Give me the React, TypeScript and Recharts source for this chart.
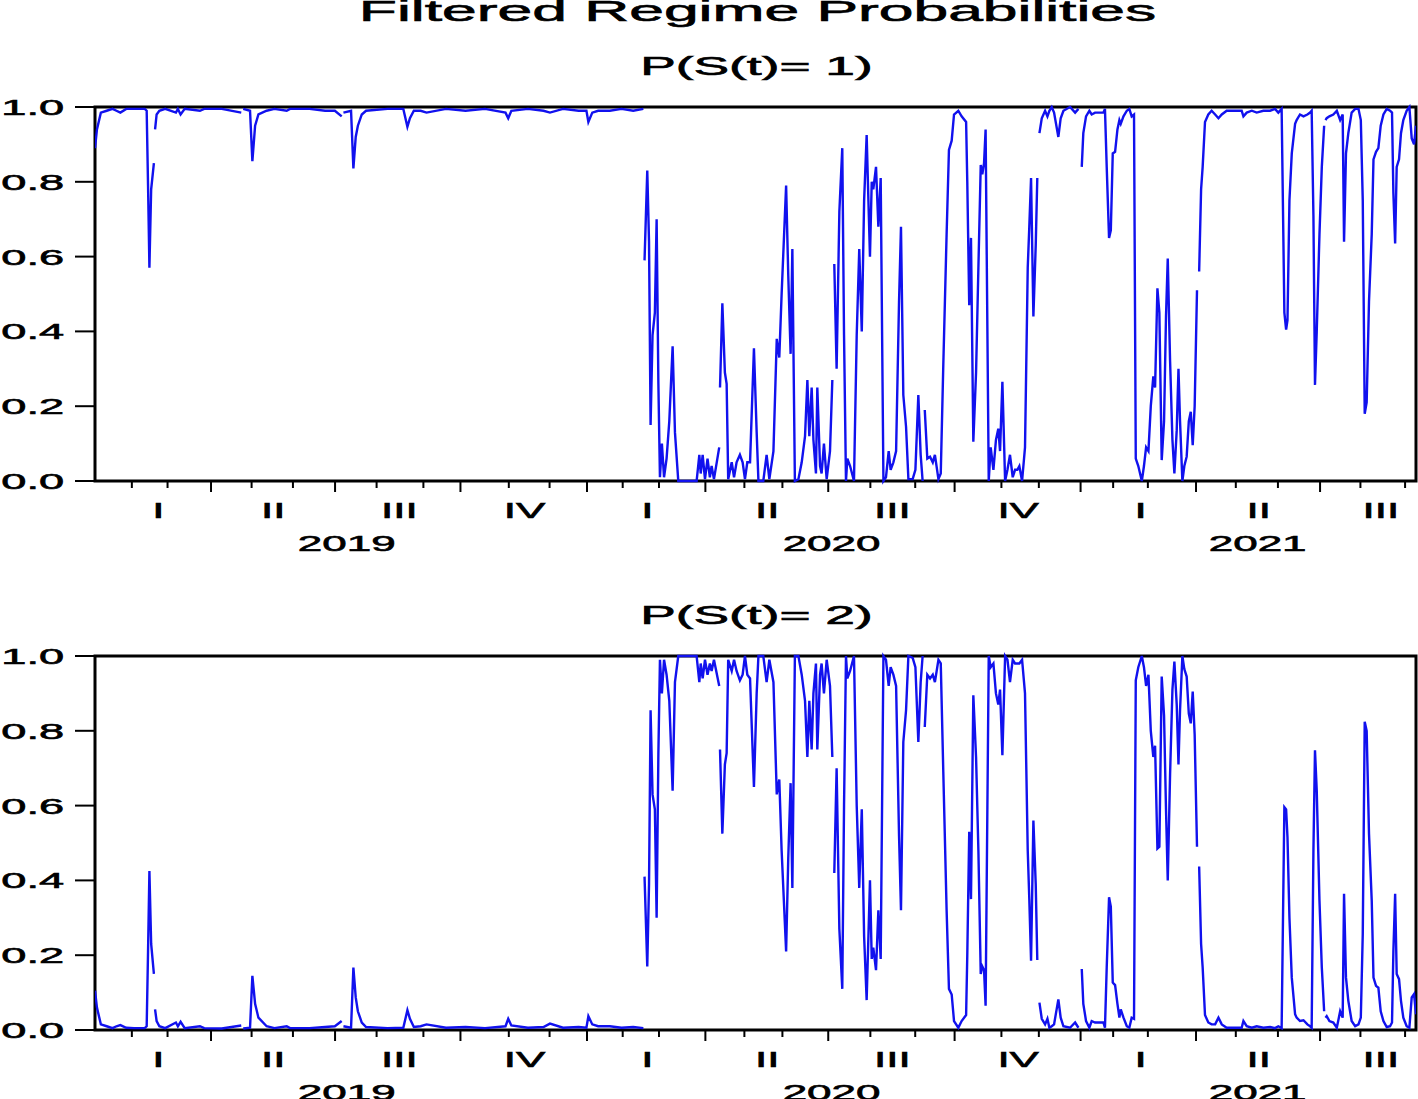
import React from 'react'
import { LineChart, Line, XAxis, YAxis, ReferenceArea } from 'recharts'

// observation position (weekday index from the first day of the sample); gaps are market holidays
const obs = [
  0, 1, 3, 6, 9, 11, 13, 16, 20, 25.5, 26.5, 27.2, 27.9, 28.8, 30.2, 30.5, 30.8, 31.6, 33, 36,
  41.5, 42.5, 43.9, 46, 53.8, 56, 65, 75, 75.5, 76, 79.5, 80.7, 82.1, 83.8, 88, 92, 98.3, 100, 110, 118,
  123, 126.5, 126.9, 127.4, 131.3, 132.5, 133.7, 134.8, 136.8, 139, 150, 158.1, 160.2, 161.5, 163.5, 167, 170, 180, 190, 200,
  210.5, 211.9, 213.5, 222, 230, 233.3, 240, 248, 252, 253, 255, 258, 264, 270, 276, 281.2, 281.5,
  281.8, 283.2, 284.1, 284.9, 285.9, 287.1, 288.0, 288.9, 289.7, 290.7, 291.8, 293.1, 294.5, 296.2, 297.4, 299.1, 306, 308.5,
  309.9, 310.6, 311.6, 312.8, 314.1, 315.3, 316.2, 317.4, 320.1, 320.3, 320.5, 321.7, 323.0, 323.9, 324.7, 326.5, 327.7, 329.0,
  330.7, 332.1, 333.3, 334.5, 335.9, 337.9, 339.3, 340.2, 342.7, 344.4, 345.8, 347.9, 349.6, 350.9, 352.1, 354.4, 355.5, 356.7,
  357.6, 358.9, 360.7, 362.4, 364.1, 365.3, 366.3, 367.5, 368.4, 369.7, 370.4, 371.8, 372.6, 373.8, 375.2, 376.9, 378.1, 378.6,
  379.1, 380.3, 381.7, 383.2, 384.1, 385.1, 385.8, 387.2, 389.2, 390.6, 391.9, 393.2, 394.4, 395.7, 396.6, 397.4, 398.3, 399.1,
  400.5, 401.7, 402.9, 404.3, 405.6, 407.0, 408.0, 409.4, 410.8, 412.3, 413.3, 414.5, 415.9, 417.1, 419.3, 420.7, 422.2, 423.4,
  424.4, 424.9, 425.5, 426.8, 428.2, 429.6, 430.7, 432.5, 433.7, 435.0, 436.7, 437.9, 439.3, 440.5, 442.7, 444.4, 446.7, 447.3,
  448.3, 449.2, 450.4, 451.8, 453.0, 454.2, 455.0, 455.9, 456.7, 458.3, 459.3, 460.7, 462.0, 463.2, 464.1, 465.3, 466.7, 467.9,
  469.2, 470.6, 471.8, 473.0, 474.0, 475.4, 476.9, 478.3, 479.1, 480.0, 481.2, 482.4, 483.2, 483.7, 484.3, 485.5, 487.2, 488.4,
  489.4, 490.6, 491.8, 494.0, 495.2, 496.6, 500.0, 502.6, 504.3, 505.2, 506.0, 506.8, 508.2, 509.9, 511.1, 512.8, 517.1, 517.9,
  518.8, 520.0, 520.9, 521.9, 523.1, 524.3, 525.3, 526.0, 527.4, 529.1, 530.4, 531.6, 532.8, 533.7, 535.0, 536.8, 537.9, 539.0,
  540.2, 541.4, 542.7, 543.6, 544.8, 545.8, 547.0, 548.2, 549.2, 550.1, 551.3, 552.5, 553.5, 554.7, 555.6, 556.4, 557.6, 558.6,
  559.8, 560.9, 561.9, 562.9, 563.9, 565.1, 565.6, 566.2, 567.2, 568.0, 569.2, 570.9, 572.6, 574.4, 576.1, 577.8, 580.3, 585.5,
  588.0, 588.9, 590.6, 593.2, 595.7, 599.1, 602.6, 605.1, 606.8, 608.5, 609.9, 610.8, 611.5, 612.5, 613.7, 615.4, 616.2, 617.9,
  619.7, 621.7, 623.1, 623.9, 624.8, 625.6, 626.5, 627.9, 629.1, 630.3, 630.6, 631.0, 631.6, 633.0, 635.0, 636.8, 638.5, 639.8,
  640.5, 641.5, 642.7, 644.4, 646.2, 647.9, 649.1, 650.1, 651.1, 652.1, 653.3, 654.7, 655.6, 656.9, 658.1, 659.3, 660.7, 662.4,
  664.1, 665.1, 665.8, 666.7, 667.5, 668.7, 669.7, 670.9, 672.6, 674.0, 675.2, 676.4, 677.4,
]

// P(S(t)= 1)
const probRegime1 = [
  0.89, 0.94, 0.985, 0.99, 0.995, 0.99, 0.985, 0.995, 0.995, 0.995, 0.99, 0.79, 0.57, 0.78, 0.85, null, 0.94, 0.98, 0.99, 0.995,
  0.985, 0.995, 0.98, 0.995, 0.99, 0.995, 0.995, 0.985, null, 0.995, 0.99, 0.855, 0.95, 0.98, 0.99, 0.995, 0.99, 0.995, 0.995, 0.99,
  0.99, 0.975, null, 0.985, 0.99, 0.836, 0.92, 0.95, 0.98, 0.99, 0.995, 0.995, 0.947, 0.97, 0.99, 0.99, 0.985, 0.995, 0.99, 0.995,
  0.985, 0.97, 0.99, 0.995, 0.99, 0.985, 0.995, 0.99, 0.99, 0.96, 0.985, 0.99, 0.99, 0.995, 0.99, 0.995, null,
  0.59, 0.83, 0.64, 0.15, 0.39, 0.45, 0.70, 0.26, 0.01, 0.10, 0.01, 0.06, 0.16, 0.36, 0.13, 0, 0, 0,
  0.07, 0.02, 0.07, 0.005, 0.06, 0.01, 0.04, 0.005, 0.09, null, 0.25, 0.475, 0.29, 0.26, 0.005, 0.05, 0.01, 0.05,
  0.07, 0.05, 0.005, 0.05, 0.05, 0.355, 0.13, 0, 0, 0.07, 0.005, 0.08, 0.38, 0.33, 0.50, 0.79, 0.55, 0.34,
  0.62, 0, 0.005, 0.05, 0.12, 0.27, 0.12, 0.25, 0.11, 0.02, 0.25, 0.04, 0.02, 0.10, 0.005, 0.08, 0.27, null,
  0.58, 0.30, 0.72, 0.89, 0.39, 0, 0.06, 0.04, 0, 0.39, 0.62, 0.40, 0.75, 0.925, 0.75, 0.60, 0.80, 0.78,
  0.84, 0.68, 0.81, 0, 0.01, 0.08, 0.03, 0.05, 0.08, 0.48, 0.68, 0.23, 0.145, 0.005, 0.005, 0.03, 0.23, 0.07,
  0, null, 0.19, 0.06, 0.065, 0.05, 0.07, 0.005, 0.02, 0.31, 0.66, 0.885, 0.91, 0.98, 0.99, 0.975, 0.96, 0.80,
  0.47, 0.65, 0.105, 0.29, 0.57, 0.845, 0.82, 0.85, 0.94, 0, 0.09, 0.03, 0.11, 0.14, 0.08, 0.265, 0, 0.03,
  0.07, 0.01, 0.03, 0.03, 0.04, 0, 0.09, 0.57, 0.68, 0.81, 0.44, 0.63, 0.81, null, 0.93, 0.97, 0.99, 0.975,
  0.99, 1, 0.985, 0.92, 0.97, 0.99, 1, 0.985, 0.995, null, 0.84, 0.93, 0.975, 0.99, 0.98, 0.985, 0.985, 0.995,
  0.84, 0.65, 0.67, 0.876, 0.88, 0.94, 0.965, 0.955, 0.975, 0.99, 0.995, 0.975, 0.98, 0.06, 0.04, 0, 0.04, 0.09,
  0.08, 0.20, 0.28, 0.25, 0.515, 0.45, 0.056, 0.16, 0.44, 0.595, 0.32, 0.11, 0.02, 0.136, 0.30, 0.16, 0, 0.04,
  0.065, 0.16, 0.185, 0.096, 0.20, 0.51, null, 0.56, 0.78, 0.84, 0.96, 0.98, 0.99, 0.98, 0.97, 0.98, 0.99, 0.99,
  0.99, 0.975, 0.985, 0.99, 0.985, 0.99, 0.99, 0.995, 0.985, 0.995, 0.45, 0.405, 0.43, 0.75, 0.876, 0.955, 0.965, 0.98,
  0.975, 0.98, 0.985, 0.99, 0.71, 0.257, 0.40, 0.66, 0.84, 0.95, null, 0.965, 0.97, 0.975, 0.98, 0.99, 0.965, 0.98,
  0.64, 0.876, 0.93, 0.985, 0.995, 0.995, 0.965, 0.75, 0.18, 0.21, 0.48, 0.66, 0.86, 0.88, 0.89, 0.95, 0.98, 0.995,
  0.99, 0.985, 0.77, 0.635, 0.84, 0.86, 0.93, 0.965, 0.99, 1, 0.916, 0.90, 0.95,
]

// P(S(t)= 2)
const probRegime2 = [
  0.105, 0.06, 0.015, 0.01, 0.005, 0.01, 0.013, 0.006, 0.005, 0.005, 0.01, 0.21, 0.425, 0.23, 0.15, null, 0.055, 0.024, 0.01, 0.005,
  0.02, 0.01, 0.022, 0.005, 0.01, 0.005, 0.004, 0.012, null, 0.004, 0.006, 0.145, 0.07, 0.033, 0.01, 0.005, 0.01, 0.005, 0.005, 0.008,
  0.01, 0.024, null, 0.01, 0.006, 0.167, 0.087, 0.05, 0.02, 0.008, 0.005, 0.006, 0.053, 0.03, 0.008, 0.01, 0.015, 0.006, 0.008, 0.005,
  0.01, 0.03, 0.012, 0.006, 0.008, 0.017, 0.006, 0.008, 0.006, 0.037, 0.015, 0.01, 0.01, 0.006, 0.008, 0.005, null,
  0.41, 0.17, 0.39, 0.855, 0.63, 0.59, 0.30, 0.74, 0.99, 0.90, 0.99, 0.95, 0.88, 0.64, 0.93, 1, 1, 1,
  0.93, 0.98, 0.94, 0.99, 0.95, 0.98, 0.96, 0.99, 0.92, null, 0.75, 0.525, 0.71, 0.74, 0.99, 0.96, 0.99, 0.96,
  0.935, 0.95, 1, 0.95, 0.94, 0.65, 0.90, 1, 1, 0.93, 0.99, 0.93, 0.63, 0.67, 0.48, 0.21, 0.46, 0.66,
  0.38, 1, 1, 0.95, 0.88, 0.73, 0.88, 0.75, 0.90, 0.98, 0.75, 0.95, 0.98, 0.90, 0.99, 0.92, 0.73, null,
  0.42, 0.70, 0.27, 0.11, 0.60, 1, 0.94, 0.96, 1, 0.60, 0.38, 0.59, 0.25, 0.08, 0.25, 0.40, 0.19, 0.22,
  0.16, 0.32, 0.19, 1, 0.99, 0.92, 0.97, 0.95, 0.92, 0.52, 0.32, 0.77, 0.855, 1, 0.995, 0.97, 0.77, 0.93,
  1, null, 0.81, 0.95, 0.94, 0.95, 0.93, 0.99, 0.98, 0.69, 0.32, 0.11, 0.095, 0.024, 0.006, 0.024, 0.04, 0.20,
  0.53, 0.35, 0.895, 0.73, 0.48, 0.15, 0.17, 0.16, 0.065, 1, 0.97, 0.98, 0.90, 0.87, 0.91, 0.735, 1, 0.99,
  0.93, 0.99, 0.98, 0.98, 0.98, 0.99, 0.90, 0.48, 0.35, 0.185, 0.56, 0.39, 0.187, null, 0.073, 0.03, 0.015, 0.03,
  0.006, 0.01, 0.015, 0.082, 0.033, 0.01, 0.006, 0.02, 0.006, null, 0.163, 0.07, 0.024, 0.006, 0.024, 0.02, 0.02, 0.006,
  0.167, 0.355, 0.33, 0.127, 0.12, 0.07, 0.033, 0.055, 0.033, 0.01, 0.006, 0.033, 0.03, 0.935, 0.97, 1, 0.97, 0.92,
  0.95, 0.80, 0.73, 0.76, 0.485, 0.49, 0.945, 0.84, 0.59, 0.40, 0.685, 0.91, 0.985, 0.87, 0.71, 0.855, 1, 0.965,
  0.945, 0.846, 0.82, 0.905, 0.79, 0.49, null, 0.437, 0.23, 0.167, 0.04, 0.02, 0.015, 0.015, 0.033, 0.015, 0.006, 0.006,
  0.006, 0.024, 0.01, 0.006, 0.01, 0.006, 0.008, 0.005, 0.01, 0.005, 0.596, 0.59, 0.515, 0.30, 0.14, 0.042, 0.033, 0.024,
  0.026, 0.015, 0.01, 0.006, 0.48, 0.748, 0.64, 0.346, 0.167, 0.05, null, 0.033, 0.037, 0.024, 0.02, 0.006, 0.05, 0.033,
  0.364, 0.14, 0.078, 0.024, 0.01, 0.015, 0.033, 0.257, 0.824, 0.80, 0.525, 0.346, 0.14, 0.118, 0.113, 0.05, 0.024, 0.008,
  0.01, 0.02, 0.21, 0.364, 0.15, 0.136, 0.078, 0.033, 0.01, 0.006, 0.087, 0.096, 0.042,
]

// axis: first weekday of each month (Feb 2019 .. Sep 2021)
const monthStarts = [
  18.9, 37.2, 59.5, 80.3, 101.5, 123.1, 144.4, 168.4, 187.4, 212.2, 233.1,
  252.3, 270.6, 289.2, 313.0, 333.0, 352.5, 376.0, 397.6, 420.6, 440.8, 464.8, 484.0,
  505.4, 522.1, 539.9, 564.6, 585.0, 606.6, 628.2, 648.9, 671.8,
]
const quarterStarts = [59.5, 123.1, 187.4, 252.3, 313.0, 376.0, 440.8, 505.4, 564.6, 628.2]
const quarterLabels = ['I', 'II', 'III', 'IV', 'I', 'II', 'III', 'IV', 'I', 'II', 'III']
const quarterLabelPos = [32.5, 91.4, 156.1, 220.3, 283.3, 344.7, 408.9, 473.4, 536.2, 596.7, 659.4]
const yearLabels = ['2019', '2020', '2021']
const yearLabelPos = [129.1, 377.7, 596.2]
const yTicks = [0, 0.2, 0.4, 0.6, 0.8, 1.0]
const X_MAX = 677.4

const FONT = "'Liberation Sans', Arial, Helvetica, sans-serif"
const LINE_COLOR = '#1111ee'
const AXIS_Y = 481

// EViews-style wide text: glyphs stretched horizontally, slightly heavier strokes
function StretchText({ x, y, size, sx = 2, anchor = 'middle', children }: any) {
  return (
    <text
      transform={`translate(${x},${y}) scale(${sx},1)`}
      textAnchor={anchor}
      fontSize={size}
      fontFamily={FONT}
      fill="#000"
      stroke="#000"
      strokeWidth={0.6}
    >
      {children}
    </text>
  )
}

function XTick(props: any) {
  const { x, payload } = props
  const v = payload.value
  const qi = quarterLabelPos.indexOf(v)
  if (qi >= 0) {
    return <StretchText x={x} y={518} size={22}>{quarterLabels[qi]}</StretchText>
  }
  const yi = yearLabelPos.indexOf(v)
  if (yi >= 0) {
    return <StretchText x={x} y={551} size={22}>{yearLabels[yi]}</StretchText>
  }
  const long = quarterStarts.includes(v)
  return <line x1={x} x2={x} y1={AXIS_Y} y2={AXIS_Y + (long ? 11 : 7)} stroke="#000" strokeWidth={2} />
}

function YTick(props: any) {
  const { y, payload } = props
  return (
    <StretchText x={64} y={y + 8} size={22} sx={2.05} anchor="end">
      {Number(payload.value).toFixed(1)}
    </StretchText>
  )
}

const xTicks = [...monthStarts, ...quarterLabelPos, ...yearLabelPos]

function Panel({ series }: { series: (number | null)[] }) {
  const rows = obs.map((d, i) => ({ d, p: series[i] }))
  return (
    <LineChart width={1418} height={560} data={rows} margin={{ top: 107, right: 2, bottom: 0, left: 0 }}>
      <XAxis
        type="number"
        dataKey="d"
        domain={[0, X_MAX]}
        allowDataOverflow
        ticks={xTicks}
        interval={0}
        tick={(p: any) => <XTick {...p} />}
        tickLine={false}
        axisLine={false}
        height={79}
      />
      <YAxis
        domain={[0, 1]}
        ticks={yTicks}
        interval={0}
        width={95}
        tickSize={20}
        tickLine={{ stroke: '#000', strokeWidth: 2 }}
        axisLine={false}
        tick={(p: any) => <YTick {...p} />}
      />
      <Line
        type="linear"
        dataKey="p"
        stroke={LINE_COLOR}
        strokeWidth={2.4}
        dot={false}
        activeDot={false}
        connectNulls={false}
        isAnimationActive={false}
      />
      <ReferenceArea x1={0} x2={X_MAX} y1={0} y2={1} fill="none" stroke="#000" strokeWidth={3} ifOverflow="visible" />
    </LineChart>
  )
}

export default function App() {
  return (
    <div style={{ position: 'absolute', left: 0, top: 0, width: 1418, height: 1099, background: '#fff', overflow: 'hidden' }}>
      <div style={{ position: 'absolute', left: 0, top: 0 }}>
        <Panel series={probRegime1} />
      </div>
      <div style={{ position: 'absolute', left: 0, top: 549 }}>
        <Panel series={probRegime2} />
      </div>
      <svg width={1418} height={1099} style={{ position: 'absolute', left: 0, top: 0, pointerEvents: 'none' }}>
        <StretchText x={757.5} y={21} size={30} sx={2.08}>Filtered Regime Probabilities</StretchText>
        <StretchText x={756.5} y={75} size={26} sx={2.05}>P(S(t)= 1)</StretchText>
        <StretchText x={756.5} y={624} size={26} sx={2.05}>P(S(t)= 2)</StretchText>
      </svg>
    </div>
  )
}
